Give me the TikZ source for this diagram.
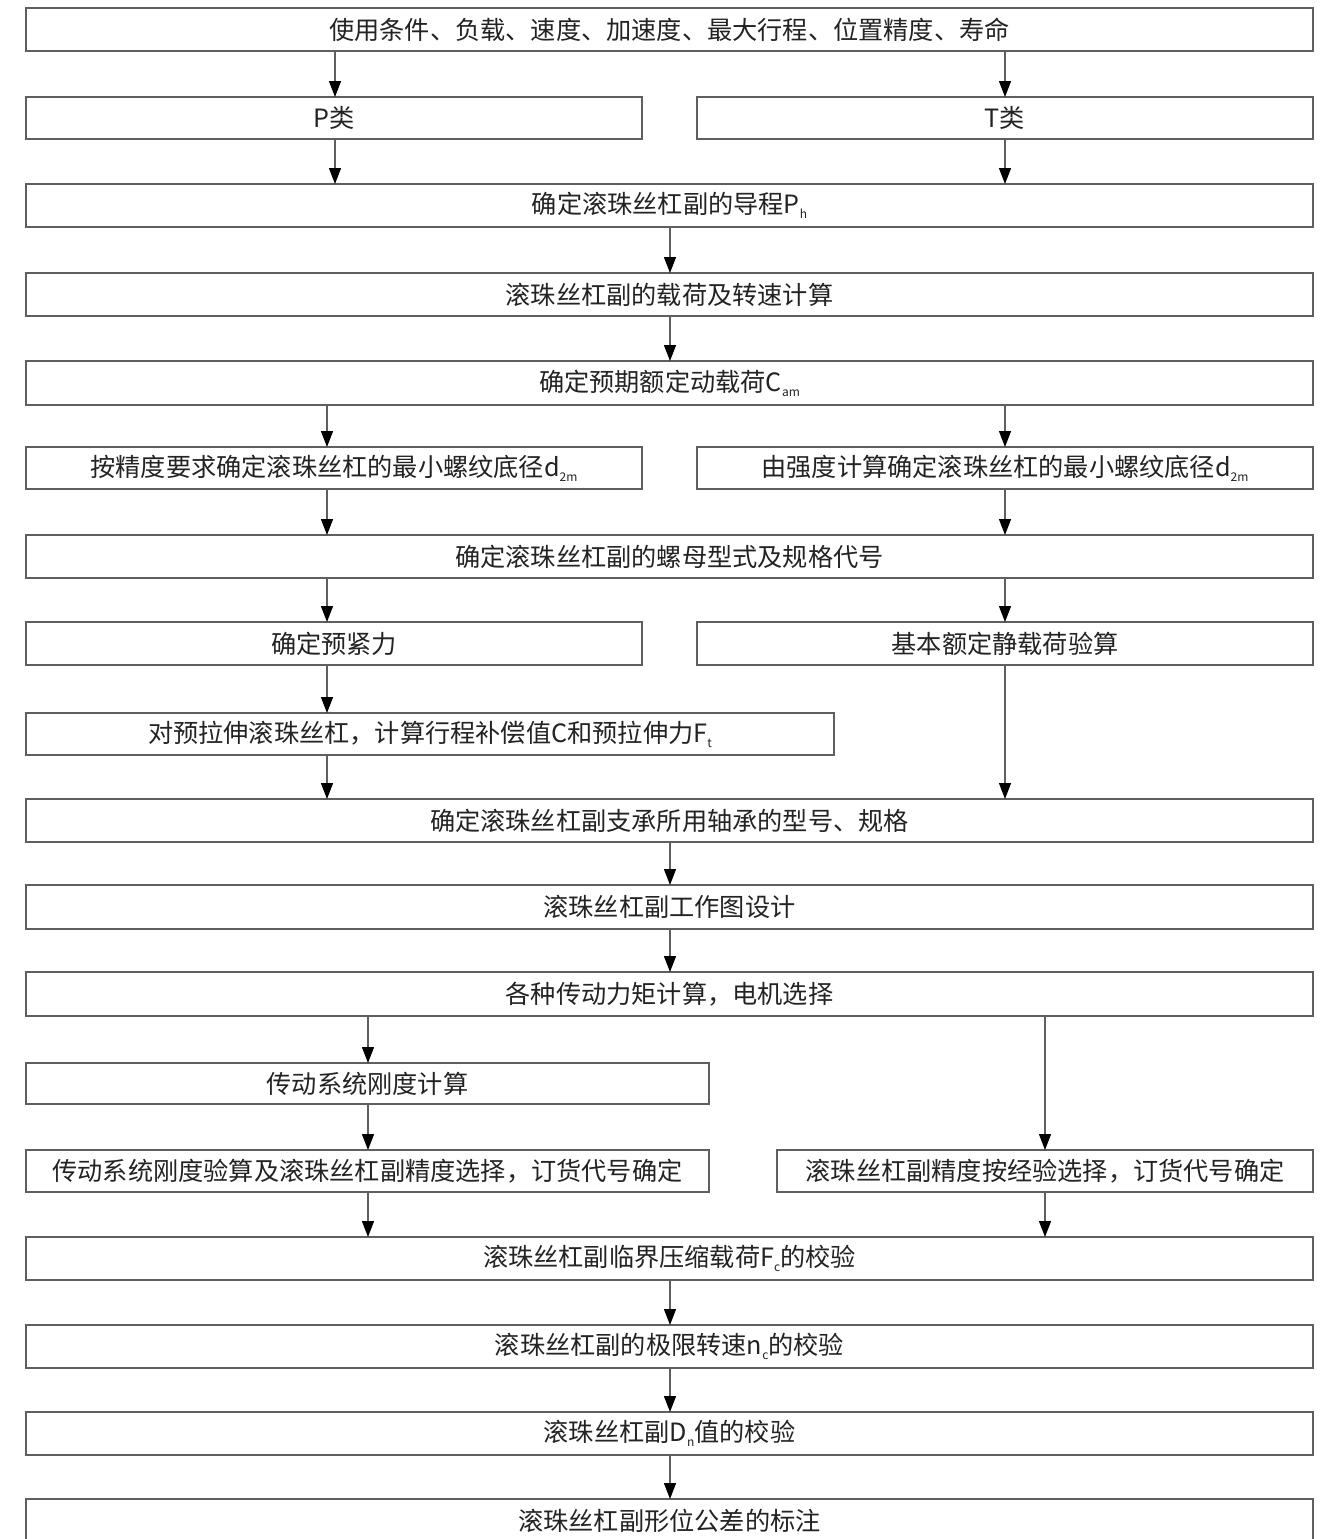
\documentclass[tikz,border=0pt]{standalone}
\usepackage{fontspec}
\newfontfamily\cjk{Noto Sans CJK SC}
\usetikzlibrary{arrows.meta}
\definecolor{boxline}{RGB}{95,95,95}
\definecolor{txt}{RGB}{35,35,35}
% small lowered index used in the labels
\newcommand\idx[1]{\raisebox{-0.35ex}{\fontsize{6}{6}\selectfont #1}}
% \flowbox{name}{x1}{y1}{x2}{y2}{label}, corners given in picture units
\newcommand\flowbox[6]{%
  \pgfmathsetmacro\bcx{(#2+#4)/2}%
  \pgfmathsetmacro\bcy{(#3+#5)/2}%
  \pgfmathsetmacro\bw{(#4-#2)*0.5}%
  \pgfmathsetmacro\bh{(#5-#3)*0.5}%
  \node[stepbox,minimum width=\bw pt,minimum height=\bh pt] (#1) at (\bcx,\bcy) {#6};}
\tikzset{
  stepbox/.style={draw=boxline,line width=0.65pt,rectangle,inner sep=0pt,outer sep=0pt,
    text=txt,font=\cjk\fontsize{12.6}{14}\selectfont},
  arr/.style={draw=boxline,line width=0.65pt,-{Triangle[length=8pt,width=6pt,fill=black,color=black]}}
}
\begin{document}
\begin{tikzpicture}[x=0.5pt,y=-0.5pt]
\useasboundingbox (0,0) rectangle (1328,1539);
\clip (0,0) rectangle (1328,1539);
\fill[white] (0,0) rectangle (1328,1539);

% columns used by the connectors
\coordinate (cA) at (335,0);
\coordinate (cB) at (1005,0);
\coordinate (cM) at (670,0);
\coordinate (cL) at (327,0);
\coordinate (cS) at (368,0);
\coordinate (cR) at (1045,0);

\flowbox{b1}{26}{8}{1313}{51}{使用条件、负载、速度、加速度、最大行程、位置精度、寿命}
\flowbox{p}{26}{97}{642}{139}{P类}
\flowbox{t}{697}{97}{1313}{139}{T类}
\flowbox{b3}{26}{184}{1313}{227}{确定滚珠丝杠副的导程P\idx{h}}
\flowbox{b4}{26}{273}{1313}{316}{滚珠丝杠副的载荷及转速计算}
\flowbox{b5}{26}{361}{1313}{405}{确定预期额定动载荷C\idx{am}}
\flowbox{b6l}{26}{447}{642}{489}{按精度要求确定滚珠丝杠的最小螺纹底径d\idx{2m}}
\flowbox{b6r}{697}{447}{1313}{489}{由强度计算确定滚珠丝杠的最小螺纹底径d\idx{2m}}
\flowbox{b7}{26}{535}{1313}{578}{确定滚珠丝杠副的螺母型式及规格代号}
\flowbox{b8l}{26}{622}{642}{665}{确定预紧力}
\flowbox{b8r}{697}{622}{1313}{665}{基本额定静载荷验算}
\flowbox{b9}{26}{713}{834}{755}{对预拉伸滚珠丝杠，计算行程补偿值C和预拉伸力F\idx{t}}
\flowbox{b10}{26}{799}{1313}{842}{确定滚珠丝杠副支承所用轴承的型号、规格}
\flowbox{b11}{26}{885}{1313}{929}{滚珠丝杠副工作图设计}
\flowbox{b12}{26}{972}{1313}{1016}{各种传动力矩计算，电机选择}
\flowbox{b13}{26}{1063}{709}{1104}{传动系统刚度计算}
\flowbox{b14l}{26}{1150}{709}{1192}{传动系统刚度验算及滚珠丝杠副精度选择，订货代号确定}
\flowbox{b14r}{777}{1150}{1313}{1192}{滚珠丝杠副精度按经验选择，订货代号确定}
\flowbox{b15}{26}{1237}{1313}{1280}{滚珠丝杠副临界压缩载荷F\idx{c}的校验}
\flowbox{b16}{26}{1325}{1313}{1368}{滚珠丝杠副的极限转速n\idx{c}的校验}
\flowbox{b17}{26}{1412}{1313}{1455}{滚珠丝杠副D\idx{n}值的校验}
% the last box runs past the lower edge of the page
\flowbox{b18}{26}{1499}{1313}{1543}{滚珠丝杠副形位公差的标注}

\draw[arr] (b1.south -| cA) -- (p.north -| cA);
\draw[arr] (b1.south -| cB) -- (t.north -| cB);
\draw[arr] (p.south -| cA) -- (b3.north -| cA);
\draw[arr] (t.south -| cB) -- (b3.north -| cB);
\draw[arr] (b3.south -| cM) -- (b4.north -| cM);
\draw[arr] (b4.south -| cM) -- (b5.north -| cM);
\draw[arr] (b5.south -| cL) -- (b6l.north -| cL);
\draw[arr] (b5.south -| cB) -- (b6r.north -| cB);
\draw[arr] (b6l.south -| cL) -- (b7.north -| cL);
\draw[arr] (b6r.south -| cB) -- (b7.north -| cB);
\draw[arr] (b7.south -| cL) -- (b8l.north -| cL);
\draw[arr] (b7.south -| cB) -- (b8r.north -| cB);
\draw[arr] (b8l.south -| cL) -- (b9.north -| cL);
\draw[arr] (b9.south -| cL) -- (b10.north -| cL);
\draw[arr] (b8r.south -| cB) -- (b10.north -| cB);
\draw[arr] (b10.south -| cM) -- (b11.north -| cM);
\draw[arr] (b11.south -| cM) -- (b12.north -| cM);
\draw[arr] (b12.south -| cS) -- (b13.north -| cS);
\draw[arr] (b12.south -| cR) -- (b14r.north -| cR);
\draw[arr] (b13.south -| cS) -- (b14l.north -| cS);
\draw[arr] (b14l.south -| cS) -- (b15.north -| cS);
\draw[arr] (b14r.south -| cR) -- (b15.north -| cR);
\draw[arr] (b15.south -| cM) -- (b16.north -| cM);
\draw[arr] (b16.south -| cM) -- (b17.north -| cM);
\draw[arr] (b17.south -| cM) -- (b18.north -| cM);
\end{tikzpicture}
\end{document}
